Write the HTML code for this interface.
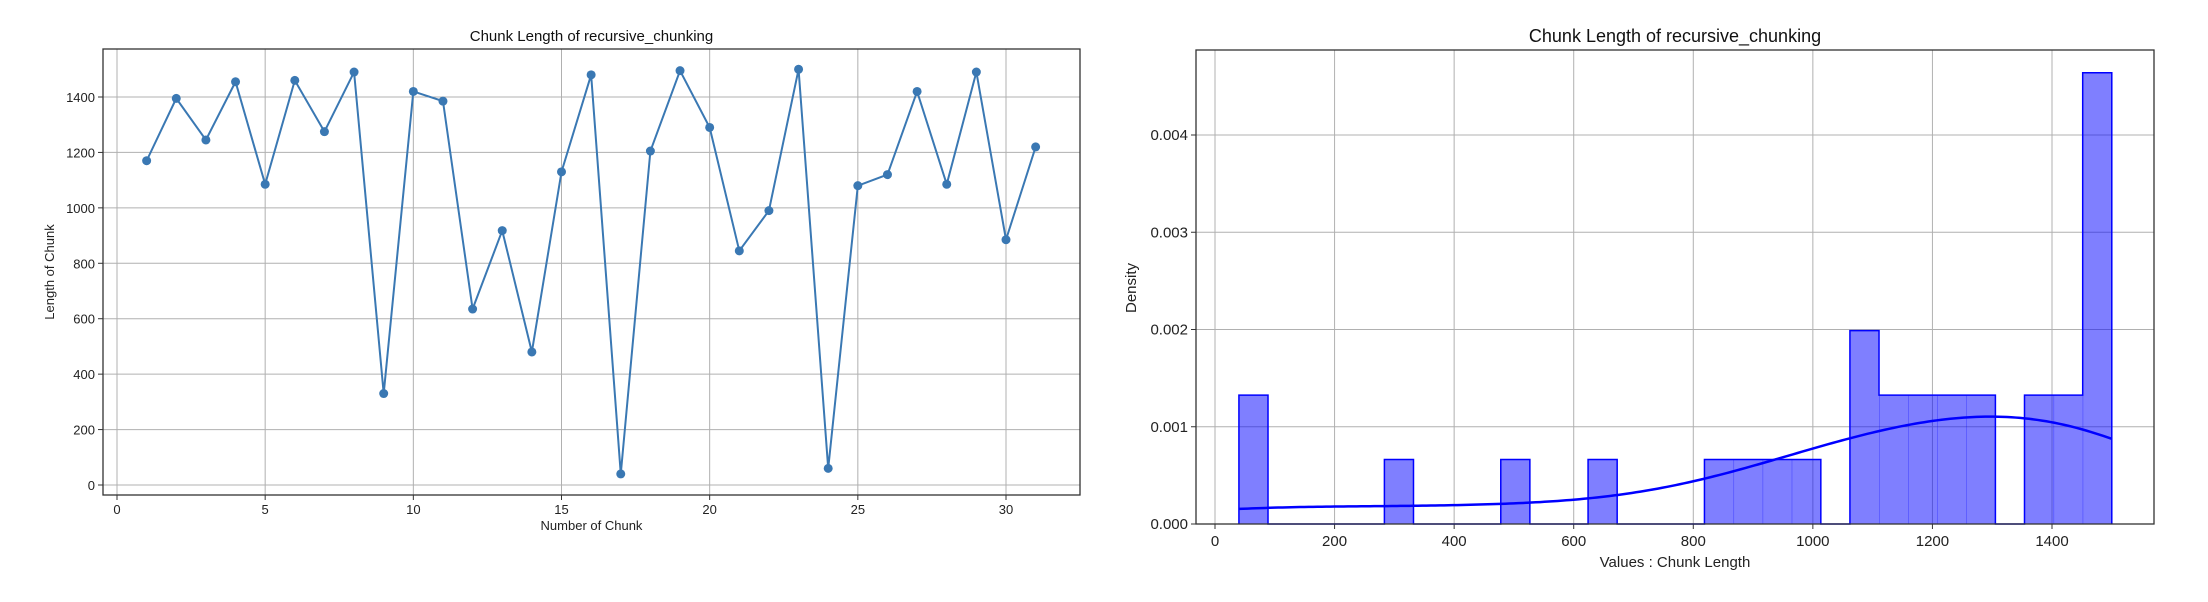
<!DOCTYPE html>
<html><head><meta charset="utf-8"><style>
html,body{margin:0;padding:0;background:#fff;}
svg{display:block;font-family:"Liberation Sans","DejaVu Sans",sans-serif;}
</style></head><body>
<svg id="c" width="2208" height="602" viewBox="0 0 2208 602"></svg>
<script>
const chunkNumbers=[1,2,3,4,5,6,7,8,9,10,11,12,13,14,15,16,17,18,19,20,21,22,23,24,25,26,27,28,29,30,31];
const chunkLengths=[1170,1395,1245,1455,1085,1460,1275,1490,330,1420,1385,635,918,480,1130,1480,40,1205,1495,1290,845,990,1500,60,1080,1120,1420,1085,1490,885,1220];
const lineXTicks=[0,5,10,15,20,25,30];
const lineYTicks=[0,200,400,600,800,1000,1200,1400];
const histXTicks=[0,200,400,600,800,1000,1200,1400];
const histYTicks=[0,0.001,0.002,0.003,0.004];
const histYTickLabels=["0.000","0.001","0.002","0.003","0.004"];
const binCount=30;

const svg=document.getElementById('c');
const NS='http://www.w3.org/2000/svg';
function mk(tag,attrs,parent){const e=document.createElementNS(NS,tag);for(const k in attrs)e.setAttribute(k,attrs[k]);(parent||svg).appendChild(e);return e;}
function txt(s,attrs,parent){const e=mk('text',attrs,parent);e.textContent=s;return e;}

// ---------- Left line chart ----------
const L={l:103,r:1080,t:49,b:495};
const lx=v=>117+(v-0)*(1006-117)/30;
const ly=v=>485-(v-0)*(485-97)/1400;
const gL=mk('g',{});


lineXTicks.forEach(t=>{
  const g=mk('line',{x1:lx(t),x2:lx(t),y1:L.t,y2:L.b,stroke:'#b0b0b0','stroke-width':1},gL);
  
  mk('line',{x1:lx(t),x2:lx(t),y1:L.b,y2:L.b+5,stroke:'#333','stroke-width':1},gL);
  const tl=txt(String(t),{x:lx(t),y:L.b+19,'font-size':13,'text-anchor':'middle',fill:'#222'},gL);
  
});
lineYTicks.forEach(t=>{
  const g=mk('line',{x1:L.l,x2:L.r,y1:ly(t),y2:ly(t),stroke:'#b0b0b0','stroke-width':1},gL);
  
  mk('line',{x1:L.l-5,x2:L.l,y1:ly(t),y2:ly(t),stroke:'#333','stroke-width':1},gL);
  const tl=txt(String(t),{x:L.l-8,y:ly(t)+5,'font-size':13,'text-anchor':'end',fill:'#222'},gL);
  
});
const frameL=mk('rect',{x:L.l,y:L.t,width:L.r-L.l,height:L.b-L.t,fill:'none',stroke:'#333','stroke-width':1.3},gL);

const pts=chunkNumbers.map((n,i)=>lx(n)+','+ly(chunkLengths[i])).join(' ');
const pl=mk('polyline',{points:pts,fill:'none',stroke:'#3a78b3','stroke-width':2},gL);

chunkNumbers.forEach((n,i)=>{
  const c=mk('circle',{cx:lx(n),cy:ly(chunkLengths[i]),r:4.5,fill:'#3a78b3'},gL);
  
});
const t1=txt('Chunk Length of recursive_chunking',{x:(L.l+L.r)/2,y:41,'font-size':15,'text-anchor':'middle',fill:'#111'},gL);

const xl1=txt('Number of Chunk',{x:(L.l+L.r)/2,y:530,'font-size':13,'text-anchor':'middle',fill:'#222'},gL);

const yl1=txt('Length of Chunk',{x:0,y:0,'font-size':13,'text-anchor':'middle',fill:'#222',transform:'translate(54,272) rotate(-90)'},gL);


// ---------- Right histogram ----------
const R={l:1196,r:2154,t:50,b:524};
const hx=v=>1215+v*(2052-1215)/1400;
const hy=v=>524-v*(524-135)/0.004;
const gR=mk('g',{});


histXTicks.forEach(t=>{
  const g=mk('line',{x1:hx(t),x2:hx(t),y1:R.t,y2:R.b,stroke:'#b0b0b0','stroke-width':1},gR);
  
  mk('line',{x1:hx(t),x2:hx(t),y1:R.b,y2:R.b+5,stroke:'#333','stroke-width':1},gR);
  const tl=txt(String(t),{x:hx(t),y:R.b+22,'font-size':15,'text-anchor':'middle',fill:'#222'},gR);
  
});
histYTicks.forEach((t,i)=>{
  const g=mk('line',{x1:R.l,x2:R.r,y1:hy(t),y2:hy(t),stroke:'#b0b0b0','stroke-width':1},gR);
  
  mk('line',{x1:R.l-5,x2:R.l,y1:hy(t),y2:hy(t),stroke:'#333','stroke-width':1},gR);
  const tl=txt(histYTickLabels[i],{x:R.l-8,y:hy(t)+5,'font-size':15,'text-anchor':'end',fill:'#222'},gR);
  
});
// histogram bins computed from data (step style: no internal edges)
const mn=Math.min(...chunkLengths),mx=Math.max(...chunkLengths),w=(mx-mn)/binCount;
const counts=new Array(binCount).fill(0);
chunkLengths.forEach(v=>{let b=Math.floor((v-mn)/w);if(b>=binCount)b=binCount-1;counts[b]++;});
const dens=counts.map(c=>c/(chunkLengths.length*w));
counts.forEach((c,i)=>{
  if(!c)return;
  const x0=hx(mn+i*w),x1=hx(mn+(i+1)*w);
  const r=mk('rect',{x:x0,y:hy(dens[i]),width:x1-x0+0.5,height:hy(0)-hy(dens[i]),fill:'rgba(0,0,255,0.5)',stroke:'none'},gR);
  
});
// step outline
let d='';
for(let i=0;i<binCount;i++){
  const x0=hx(mn+i*w),x1=hx(mn+(i+1)*w);
  const prev=i>0?dens[i-1]:0;
  d+=(i===0?'M':'L')+x0+','+hy(prev)+' L'+x0+','+hy(dens[i])+' L'+x1+','+hy(dens[i])+' ';
}
d+='L'+hx(mx)+','+hy(0);
const step=mk('path',{d:d,fill:'none',stroke:'#0000ff','stroke-width':1.5},gR);

// KDE (gaussian, Scott bandwidth)
const n=chunkLengths.length,mean=chunkLengths.reduce((a,b)=>a+b,0)/n;
const sd=Math.sqrt(chunkLengths.reduce((a,b)=>a+(b-mean)*(b-mean),0)/(n-1));
const bw=sd*Math.pow(n,-0.2);
let kp=[];
for(let k=0;k<=200;k++){const x=mn+(mx-mn)*k/200;let s=0;chunkLengths.forEach(v=>{const z=(x-v)/bw;s+=Math.exp(-0.5*z*z);});s/=n*bw*Math.sqrt(2*Math.PI);kp.push(hx(x)+','+hy(s));}
const kde=mk('polyline',{points:kp.join(' '),fill:'none',stroke:'#0000ff','stroke-width':2.5},gR);

const frameR=mk('rect',{x:R.l,y:R.t,width:R.r-R.l,height:R.b-R.t,fill:'none',stroke:'#333','stroke-width':1.3},gR);

const t2=txt('Chunk Length of recursive_chunking',{x:(R.l+R.r)/2,y:42,'font-size':18,'text-anchor':'middle',fill:'#111'},gR);

const xl2=txt('Values : Chunk Length',{x:(R.l+R.r)/2,y:567,'font-size':15,'text-anchor':'middle',fill:'#222'},gR);

const yl2=txt('Density',{x:0,y:0,'font-size':15,'text-anchor':'middle',fill:'#222',transform:'translate(1136,288) rotate(-90)'},gR);

</script>
</body></html>
